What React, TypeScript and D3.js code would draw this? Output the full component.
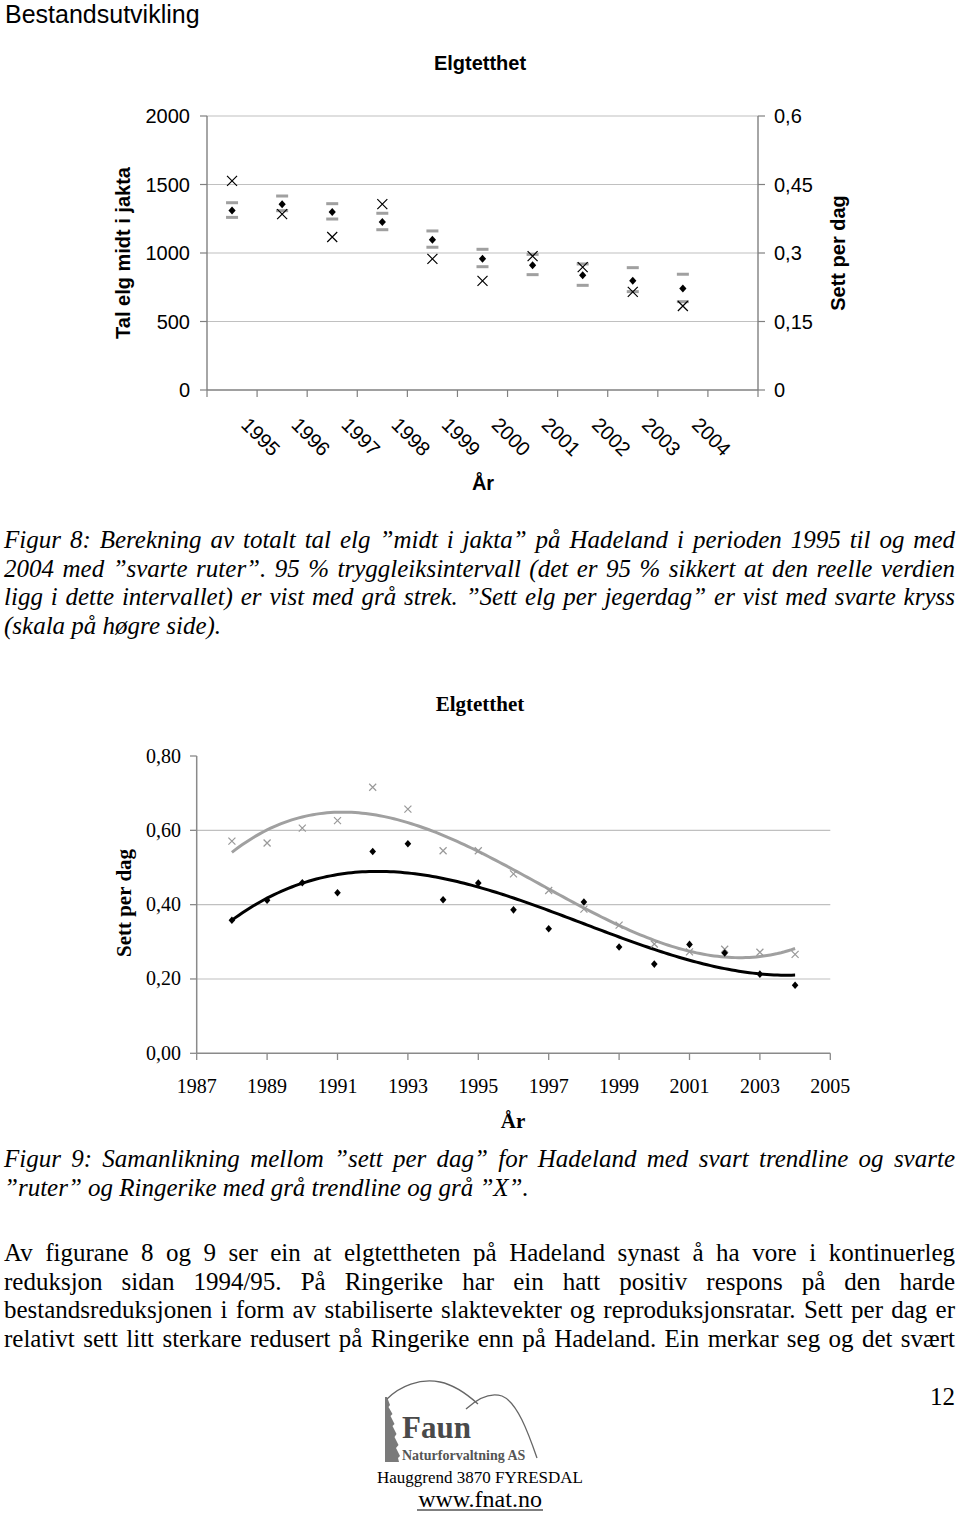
import React, { useEffect, useRef } from "react";
import * as d3 from "d3";

const W = 960;
const H = 1517;
const SANS = "'Liberation Sans', Arial, sans-serif";
const SERIF = "'Liberation Serif', 'Times New Roman', serif";

// ---- Figur 8: Hadeland, tal elg midt i jakta (left axis) + sett per dag (right axis)
const years8 = ["1995", "1996", "1997", "1998", "1999", "2000", "2001", "2002", "2003", "2004"];
const estimate8 = [1311, 1355, 1299, 1226, 1097, 958, 910, 837, 798, 740];
const upper8 = [1367, 1416, 1360, 1290, 1161, 1027, 990, 920, 893, 845];
const lower8 = [1260, 1309, 1248, 1170, 1042, 900, 842, 764, 718, 645];
const seen8 = [0.458, 0.385, 0.335, 0.407, 0.287, 0.239, 0.293, 0.269, 0.215, 0.184];
const leftTicks8 = [0, 500, 1000, 1500, 2000];
const rightTicks8 = [0, 0.15, 0.3, 0.45, 0.6];

// ---- Figur 9: sett per dag, Hadeland vs Ringerike
const years9 = [1988, 1989, 1990, 1991, 1992, 1993, 1994, 1995, 1996, 1997, 1998, 1999, 2000, 2001, 2002, 2003, 2004];
const hadeland9 = [0.358, 0.412, 0.459, 0.432, 0.543, 0.564, 0.413, 0.458, 0.386, 0.335, 0.407, 0.286, 0.24, 0.293, 0.27, 0.213, 0.183];
const ringerike9 = [0.571, 0.566, 0.606, 0.626, 0.716, 0.657, 0.545, 0.545, 0.483, 0.438, 0.388, 0.345, 0.294, 0.273, 0.28, 0.272, 0.266];
const yTicks9 = [0, 0.2, 0.4, 0.6, 0.8];
const xTicks9 = [1987, 1989, 1991, 1993, 1995, 1997, 1999, 2001, 2003, 2005];

// ---- page text
const fig8Caption = [
  "Figur 8: Berekning av totalt tal elg \u201dmidt i jakta\u201d på Hadeland i perioden 1995 til og med",
  "2004 med \u201dsvarte ruter\u201d. 95 % tryggleiksintervall (det er 95 % sikkert at den reelle verdien",
  "ligg i dette intervallet) er vist med grå strek. \u201dSett elg per jegerdag\u201d er vist med svarte kryss",
  "(skala på høgre side).",
];
const fig9Caption = [
  "Figur 9: Samanlikning mellom \u201dsett per dag\u201d for Hadeland med svart trendline og svarte",
  "\u201druter\u201d og Ringerike med grå trendline og grå \u201dX\u201d.",
];
const bodyText = [
  "Av figurane 8 og 9 ser ein at elgtettheten på Hadeland synast å ha vore i kontinuerleg",
  "reduksjon sidan 1994/95. På Ringerike har ein hatt positiv respons på den harde",
  "bestandsreduksjonen i form av stabiliserte slaktevekter og reproduksjonsratar. Sett per dag er",
  "relativt sett litt sterkare redusert på Ringerike enn på Hadeland. Ein merkar seg og det svært",
];

const noLocale = d3.formatLocale({ decimal: ",", thousands: " ", grouping: [3], currency: ["", " kr"] });
const fmtRight = (v: number) => noLocale.format("~g")(v);
const fmt2 = noLocale.format(".2f");

// least squares polynomial (Excel style trendline)
function polyFit(xs: number[], ys: number[], deg: number) {
  const x0 = d3.mean(xs) as number;
  const n = deg + 1;
  const A = Array.from({ length: n }, () => new Array(n + 1).fill(0));
  xs.forEach((x, k) => {
    const t = x - x0;
    for (let i = 0; i < n; i++) {
      for (let j = 0; j < n; j++) A[i][j] += Math.pow(t, i + j);
      A[i][n] += ys[k] * Math.pow(t, i);
    }
  });
  for (let c = 0; c < n; c++) {
    let p = c;
    for (let r = c + 1; r < n; r++) if (Math.abs(A[r][c]) > Math.abs(A[p][c])) p = r;
    [A[c], A[p]] = [A[p], A[c]];
    for (let r = 0; r < n; r++) {
      if (r === c) continue;
      const f = A[r][c] / A[c][c];
      for (let k = c; k <= n; k++) A[r][k] -= f * A[c][k];
    }
  }
  const coef = A.map((row, i) => row[n] / row[i]);
  return (x: number) => coef.reduce((s, c, i) => s + c * Math.pow(x - x0, i), 0);
}

const Justified = ({
  lines, y0, step, italic, justifyLast,
}: { lines: string[]; y0: number; step: number; italic?: boolean; justifyLast?: boolean }) => {
  const ref = useRef<SVGGElement>(null);
  useEffect(() => {
    const g = d3.select(ref.current);
    g.selectAll("*").remove();
    const L = 4;
    const R = 955;
    lines.forEach((line, i) => {
      const y = y0 + i * step;
      if (i === lines.length - 1 && !justifyLast) {
        g.append("text").attr("x", L).attr("y", y).text(line);
        return;
      }
      const words = line.split(" ");
      const nodes = words.map((w) => g.append("text").attr("y", y).text(w));
      const widths = nodes.map((n) => (n.node() as SVGTextElement).getComputedTextLength());
      const gap = (R - L - d3.sum(widths)) / (words.length - 1);
      let x = L;
      nodes.forEach((n, k) => {
        n.attr("x", x);
        x += widths[k] + gap;
      });
    });
  }, [lines, y0, step, justifyLast]);
  return <g ref={ref} fontFamily={SERIF} fontSize={25} fontStyle={italic ? "italic" : "normal"} fill="#000" />;
};

const Figure8 = () => {
  const x = d3.scaleBand().domain([...years8, "tom"]).range([207, 758]).padding(0);
  const bw = x.bandwidth();
  const cx = (d: string) => (x(d) as number) + bw / 2;
  const yL = d3.scaleLinear().domain([0, 2000]).range([390, 116]);
  const yR = d3.scaleLinear().domain([0, 0.6]).range([390, 116]);
  const bounds = d3.range(x.domain().length + 1).map((i) => 207 + i * bw);
  return (
    <g>
      <text x={5} y={23} fontFamily={SANS} fontSize={25}>Bestandsutvikling</text>
      <text x={480} y={70} textAnchor="middle" fontFamily={SANS} fontSize={20} fontWeight="bold">Elgtetthet</text>
      {leftTicks8.map((t) => (
        <line key={"g" + t} x1={207} x2={758} y1={yL(t)} y2={yL(t)} stroke={t === 0 ? "#808080" : "#c0c0c0"} strokeWidth={t === 0 ? 1.4 : 1.2} />
      ))}
      <line x1={207} x2={207} y1={116} y2={390} stroke="#808080" strokeWidth={1.4} />
      <line x1={758} x2={758} y1={116} y2={390} stroke="#808080" strokeWidth={1.4} />
      {leftTicks8.map((t) => (
        <g key={"l" + t}>
          <line x1={200} x2={207} y1={yL(t)} y2={yL(t)} stroke="#808080" strokeWidth={1.2} />
          <text x={190} y={yL(t) + 7} textAnchor="end" fontFamily={SANS} fontSize={20}>{t}</text>
        </g>
      ))}
      {rightTicks8.map((t) => (
        <g key={"r" + t}>
          <line x1={758} x2={765} y1={yR(t)} y2={yR(t)} stroke="#808080" strokeWidth={1.2} />
          <text x={774} y={yR(t) + 7} fontFamily={SANS} fontSize={20}>{fmtRight(t)}</text>
        </g>
      ))}
      {bounds.map((b, i) => (
        <line key={"b" + i} x1={b} x2={b} y1={390} y2={397} stroke="#808080" strokeWidth={1.2} />
      ))}
      {years8.map((d) => (
        <text key={"xl" + d} transform={`translate(${cx(d) + 8},426) rotate(45)`} fontFamily={SANS} fontSize={20}>{d}</text>
      ))}
      <text x={483} y={490} textAnchor="middle" fontFamily={SANS} fontSize={20} fontWeight="bold">År</text>
      <text transform="translate(130,253) rotate(-90)" textAnchor="middle" fontFamily={SANS} fontSize={20} fontWeight="bold">Tal elg midt i jakta</text>
      <text transform="translate(845,253) rotate(-90)" textAnchor="middle" fontFamily={SANS} fontSize={20} fontWeight="bold">Sett per dag</text>
      {years8.map((d, i) => (
        <g key={"ci" + d} fill="#a0a0a0">
          <rect x={cx(d) - 6} y={yL(upper8[i]) - 1.5} width={12} height={3} />
          <rect x={cx(d) - 6} y={yL(lower8[i]) - 1.5} width={12} height={3} />
        </g>
      ))}
      {years8.map((d, i) => (
        <path key={"e" + d} transform={`translate(${cx(d)},${yL(estimate8[i])})`} d="M0,-4L3.6,0L0,4L-3.6,0Z" fill="#000" />
      ))}
      {years8.map((d, i) => (
        <path key={"s" + d} transform={`translate(${cx(d)},${yR(seen8[i])})`} d="M-5,-5L5,5M-5,5L5,-5" stroke="#000" strokeWidth={1.2} fill="none" />
      ))}
    </g>
  );
};

const Figure9 = () => {
  const x = d3.scaleLinear().domain([1987, 2005]).range([196.7, 830.3]);
  const y = d3.scaleLinear().domain([0, 0.8]).range([1053.3, 756]);
  const fitH = polyFit(years9, hadeland9, 3);
  const fitR = polyFit(years9, ringerike9, 3);
  const xs = d3.range(years9[0], years9[years9.length - 1] + 0.001, 0.1);
  const line = (f: (v: number) => number) =>
    d3.line<number>().x((v) => x(v)).y((v) => y(f(v))).curve(d3.curveLinear)(xs) as string;
  return (
    <g>
      <text x={480} y={711} textAnchor="middle" fontFamily={SERIF} fontSize={21} fontWeight="bold">Elgtetthet</text>
      {yTicks9.filter((t) => t > 0 && t < 0.8).map((t) => (
        <line key={"g" + t} x1={196.7} x2={830.3} y1={y(t)} y2={y(t)} stroke="#c0c0c0" strokeWidth={1.2} />
      ))}
      <line x1={196.7} x2={196.7} y1={756} y2={1053.3} stroke="#8a8a8a" strokeWidth={1.5} />
      <line x1={196.7} x2={830.3} y1={1053.3} y2={1053.3} stroke="#8a8a8a" strokeWidth={1.5} />
      {yTicks9.map((t) => (
        <g key={"y" + t}>
          <line x1={190} x2={196.7} y1={y(t)} y2={y(t)} stroke="#8a8a8a" strokeWidth={1.3} />
          <text x={181} y={y(t) + 6.5} textAnchor="end" fontFamily={SERIF} fontSize={20}>{fmt2(t)}</text>
        </g>
      ))}
      {xTicks9.map((t) => (
        <g key={"x" + t}>
          <line x1={x(t)} x2={x(t)} y1={1053.3} y2={1060} stroke="#8a8a8a" strokeWidth={1.3} />
          <text x={x(t)} y={1093} textAnchor="middle" fontFamily={SERIF} fontSize={20}>{t}</text>
        </g>
      ))}
      <text x={513} y={1128} textAnchor="middle" fontFamily={SERIF} fontSize={21} fontWeight="bold">År</text>
      <text transform="translate(131,903) rotate(-90)" textAnchor="middle" fontFamily={SERIF} fontSize={21} fontWeight="bold">Sett per dag</text>
      <path d={line(fitR)} fill="none" stroke="#a0a0a0" strokeWidth={3} />
      <path d={line(fitH)} fill="none" stroke="#000" strokeWidth={3} />
      {years9.map((yr, i) => (
        <path key={"r" + yr} transform={`translate(${x(yr)},${y(ringerike9[i])})`} d="M-3.5,-3.5L3.5,3.5M-3.5,3.5L3.5,-3.5" stroke="#999" strokeWidth={1.2} fill="none" />
      ))}
      {years9.map((yr, i) => (
        <path key={"h" + yr} transform={`translate(${x(yr)},${y(hadeland9[i])})`} d="M0,-3.8L3.3,0L0,3.8L-3.3,0Z" fill="#000" />
      ))}
    </g>
  );
};

const Logo = () => (
  <g>
    <path
      d="M385,1397 L387,1397 L390,1405 L388.5,1407 L392.5,1414 L390.5,1416 L394.5,1424 L392.5,1426 L396.5,1434 L394.5,1437 L398.5,1445 L396,1448 L400,1456 L398,1458 L399,1462 L385,1462 Z"
      fill="#7a7a7a"
    />
    <path d="M387,1399 C400,1386 420,1378 440,1382 C455,1385 468,1395 478,1404" fill="none" stroke="#666" strokeWidth={1.3} />
    <path d="M466,1409 C478,1398 490,1392 502,1396 C517,1402 528,1432 537,1458" fill="none" stroke="#666" strokeWidth={1.3} />
    <text x={402} y={1438} fontFamily={SERIF} fontSize={31} fontWeight="bold" fill="#4a4a4a">Faun</text>
    <text x={402} y={1460} fontFamily={SERIF} fontSize={14} fontWeight="bold" fill="#555">Naturforvaltning AS</text>
    <text x={480} y={1483} textAnchor="middle" fontFamily={SERIF} fontSize={17}>Hauggrend 3870 FYRESDAL</text>
    <text x={480} y={1507} textAnchor="middle" fontFamily={SERIF} fontSize={24}>www.fnat.no</text>
    <line x1={417} x2={543} y1={1510} y2={1510} stroke="#000" strokeWidth={1.2} />
  </g>
);

export default function App() {
  return (
    <svg width={W} height={H} viewBox={`0 0 ${W} ${H}`} style={{ position: "absolute", left: 0, top: 0, background: "#fff" }}>
      <rect width={W} height={H} fill="#fff" />
      <Figure8 />
      <Justified lines={fig8Caption} y0={548} step={28.5} italic />
      <Figure9 />
      <Justified lines={fig9Caption} y0={1167} step={28.5} italic />
      <Justified lines={bodyText} y0={1261} step={28.6} justifyLast />
      <text x={955} y={1405} textAnchor="end" fontFamily={SERIF} fontSize={25}>12</text>
      <Logo />
    </svg>
  );
}
